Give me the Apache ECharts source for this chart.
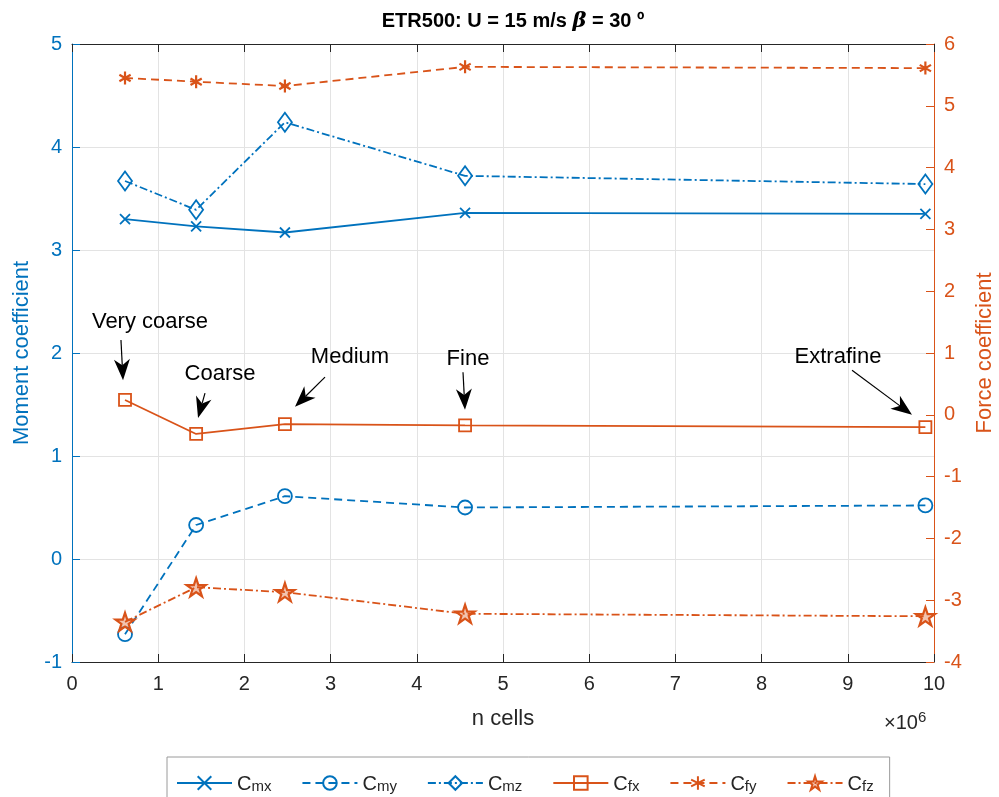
<!DOCTYPE html>
<html>
<head>
<meta charset="utf-8">
<script src="https://cdn.jsdelivr.net/npm/echarts/dist/echarts.min.js"></script>
<style>
  html, body { margin: 0; padding: 0; background: #fff; }
  #main { width: 999px; height: 797px; }
</style>
</head>
<body>
<div id="main"></div>
<script>
var chartDom = document.getElementById("main");
var myChart = echarts.init(chartDom);
var option;

// n cells (x 10^6)
const nCells = [0.615, 1.44, 2.47, 4.56, 9.9];
// moment coefficients (left axis)
const cmx = [3.3, 3.23, 3.17, 3.36, 3.35];
const cmy = [-0.73, 0.33, 0.61, 0.5, 0.52];
const cmz = [3.67, 3.39, 4.24, 3.72, 3.64];
// force coefficients (right axis)
const cfx = [0.24, -0.31, -0.15, -0.17, -0.2];
const cfy = [5.45, 5.39, 5.32, 5.63, 5.61];
const cfz = [-3.35, -2.79, -2.87, -3.22, -3.26];

const xTicks = [0, 1, 2, 3, 4, 5, 6, 7, 8, 9, 10];
const meshLabels = ["Very coarse", "Coarse", "Medium", "Fine", "Extrafine"];

const blue = "#0072BD";
const orange = "#D95319";
const dark = "#262626";
const font = "Liberation Sans, Arial, sans-serif";

// annotation anchors in data units (x: n cells, y: force coefficient)
const notes = [
  { text: [0.905, 1.5], from: [0.568, 1.21], to: [0.592, 0.56] },
  { text: [1.717, 0.66], from: [1.543, 0.35], to: [1.462, -0.05] },
  { text: [3.225, 0.94], from: [2.935, 0.61], to: [2.587, 0.13] },
  { text: [4.594, 0.9], from: [4.536, 0.69], to: [4.559, 0.08] },
  { text: [8.886, 0.94], from: [9.049, 0.72], to: [9.745, 0.0] },
];

// marker shapes
const crossPath = "path://M0,0L10,10M0,10L10,0";
const starPath = (() => {
  let p = "path://";
  for (let i = 0; i < 10; i++) {
    const a = ((-90 + i * 36) * Math.PI) / 180;
    const r = i % 2 ? 3.82 : 10;
    p += (i ? "L" : "M") + (10 + r * Math.cos(a)).toFixed(2) + "," + (10 + r * Math.sin(a)).toFixed(2);
  }
  return p + "Z";
})();
const asteriskPath = "path://M5,0L5,10M0.67,2.5L9.33,7.5M0.67,7.5L9.33,2.5";

const dashDot = [8, 3, 2, 3];
const dashed = [8, 5];

function mk(name, vals, axis, color, lineType, symbol, size, fill, bw) {
  return {
    name,
    type: "line",
    yAxisIndex: axis,
    data: nCells.map((x, i) => [x, vals[i]]),
    symbol,
    symbolSize: size,
    symbolKeepAspect: true,
    showAllSymbol: true,
    lineStyle: { color, width: 1.8, type: lineType },
    itemStyle: { color: fill || "rgba(255,255,255,0)", borderColor: color, borderWidth: bw || 1.8 },
    emphasis: { disabled: true },
    z: 3,
  };
}

const series = [
  mk("Cmx", cmx, 0, blue, "solid", crossPath, 10),
  mk("Cmy", cmy, 0, blue, dashed, "circle", 14),
  mk("Cmz", cmz, 0, blue, dashDot, "diamond", [14, 19]),
  mk("Cfx", cfx, 1, orange, "solid", "rect", 12),
  mk("Cfy", cfy, 1, orange, dashed, asteriskPath, 13, null, 2.2),
  mk("Cfz", cfz, 1, orange, dashDot, starPath, 19, "rgba(217,83,25,0.35)", 2.2),
];

const grid = { left: 72, right: 65, top: 44, bottom: 135, outerBoundsMode: "none", containLabel: false };

option = {
  animation: false,
  backgroundColor: "#fff",
  textStyle: { fontFamily: font },
  title: {
    text: "{a|ETR500: U = 15 m/s }{b|β}{a| = 30 º}",
    left: 508,
    textAlign: "center",
    top: 6,
    textStyle: {
      rich: {
        a: { fontSize: 20, fontWeight: "bold", color: "#000", fontFamily: font },
        b: { fontSize: 21, fontStyle: "italic", color: "#000", fontFamily: "DejaVu Serif, serif" },
      },
    },
  },
  grid,
  legend: {
    left: 167,
    top: 757,
    padding: [6, 16, 20, 9],
    borderColor: "#9a9a9a",
    borderWidth: 1,
    backgroundColor: "#fff",
    itemWidth: 55,
    itemHeight: 17,
    itemGap: 30,
    selectedMode: false,
    data: series.map((s) => s.name),
    formatter: (name) => "{c|C}{s|" + name.slice(1) + "}",
    textStyle: {
      rich: {
        c: { fontSize: 20, color: dark, fontFamily: font, verticalAlign: "bottom", lineHeight: 22 },
        s: { fontSize: 15, color: dark, fontFamily: font, verticalAlign: "bottom", lineHeight: 15, padding: [16, 0, 0, 0] },
      },
    },
  },
  xAxis: [
    {
      type: "value",
      min: 0,
      max: 10,
      interval: 1,
      name: "n cells",
      nameLocation: "middle",
      nameGap: 46,
      nameTextStyle: { fontSize: 22, color: dark, fontFamily: font },
      axisLine: { onZero: false, lineStyle: { color: dark, width: 1 } },
      axisTick: { inside: true, length: 8, lineStyle: { color: dark } },
      axisLabel: {
        fontSize: 20,
        color: dark,
        margin: 12,
        formatter: (v) => (xTicks.includes(v) ? String(v) : ""),
      },
      splitLine: { show: true, lineStyle: { color: "#e3e3e3", width: 1 } },
    },
    {
      type: "value",
      position: "top",
      min: 0,
      max: 10,
      interval: 1,
      axisLine: { onZero: false, lineStyle: { color: dark, width: 1 } },
      axisTick: { inside: true, length: 8, lineStyle: { color: dark } },
      axisLabel: { show: false },
      splitLine: { show: false },
    },
  ],
  yAxis: [
    {
      type: "value",
      min: -1,
      max: 5,
      interval: 1,
      position: "left",
      name: "Moment coefficient",
      nameLocation: "middle",
      nameGap: 38,
      nameTextStyle: { fontSize: 22, color: blue, fontFamily: font },
      axisLine: { show: true, onZero: false, lineStyle: { color: blue, width: 1 } },
      axisTick: { show: true, inside: true, length: 8, lineStyle: { color: blue } },
      axisLabel: { fontSize: 20, color: blue, margin: 10 },
      splitLine: { show: true, lineStyle: { color: "#e3e3e3", width: 1 } },
    },
    {
      type: "value",
      min: -4,
      max: 6,
      interval: 1,
      position: "right",
      name: "Force coefficient",
      nameLocation: "middle",
      nameGap: 40,
      nameTextStyle: { fontSize: 22, color: orange, fontFamily: font },
      axisLine: { show: true, onZero: false, lineStyle: { color: orange, width: 1 } },
      axisTick: { show: true, inside: true, length: 8, lineStyle: { color: orange } },
      axisLabel: { fontSize: 20, color: orange, margin: 10 },
      splitLine: { show: false },
    },
  ],
  series,
};

option && myChart.setOption(option);

// annotations: text + arrow, placed from data coordinates
function arrowHead(tip, from, len, half, notch) {
  const dx = tip[0] - from[0];
  const dy = tip[1] - from[1];
  const d = Math.hypot(dx, dy);
  const ux = dx / d, uy = dy / d;
  const nx = -uy, ny = ux;
  const bx = tip[0] - ux * len, by = tip[1] - uy * len;
  return [
    [tip[0], tip[1]],
    [bx + nx * half, by + ny * half],
    [tip[0] - ux * (len - notch), tip[1] - uy * (len - notch)],
    [bx - nx * half, by - ny * half],
  ];
}

const elements = [];
notes.forEach((n, i) => {
  const toPx = (p) => myChart.convertToPixel({ xAxisIndex: 0, yAxisIndex: 1 }, p);
  const t = toPx(n.text);
  const a = toPx(n.from);
  const b = toPx(n.to);
  const head = arrowHead(b, a, 21, 8, 6);
  elements.push({
    type: "text",
    x: t[0],
    y: t[1],
    style: {
      text: meshLabels[i],
      font: "22px " + font,
      fill: "#000",
      align: "center",
      verticalAlign: "middle",
    },
    z: 10,
  });
  elements.push({
    type: "line",
    shape: { x1: a[0], y1: a[1], x2: head[2][0], y2: head[2][1] },
    style: { stroke: "#000", lineWidth: 1.2 },
    z: 10,
  });
  elements.push({
    type: "polygon",
    shape: { points: head },
    style: { fill: "#000" },
    z: 10,
  });
});

// x10^6 exponent label
elements.push({
  type: "text",
  x: 884,
  y: 723,
  style: {
    text: "{a|×10}{b|6}",
    verticalAlign: "middle",
    rich: {
      a: { fontSize: 20, fill: dark, fontFamily: font },
      b: { fontSize: 15, fill: dark, fontFamily: font, verticalAlign: "top", padding: [0, 0, 10, 0] },
    },
  },
  z: 10,
});

myChart.setOption({ graphic: { elements } });
</script>
</body>
</html>
